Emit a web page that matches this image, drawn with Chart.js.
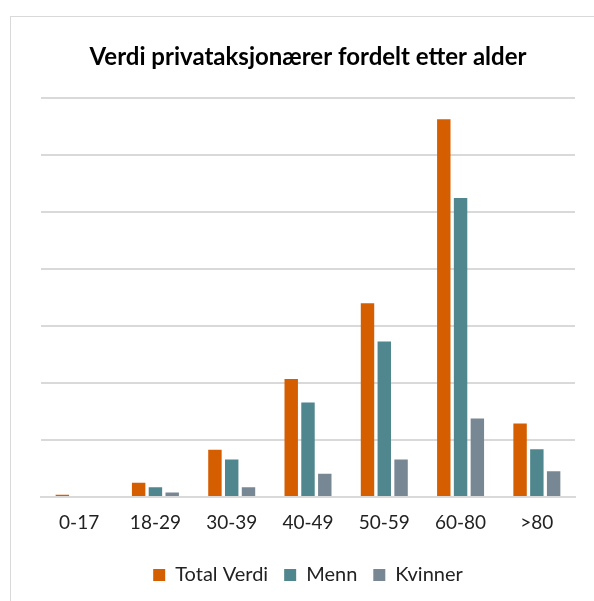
<!DOCTYPE html>
<html>
<head>
<meta charset="utf-8">
<script src="https://cdn.jsdelivr.net/npm/chart.js@4"></script>
<style>
  html, body { margin: 0; padding: 0; background: #fff; overflow: hidden; }
  #wrap { position: relative; width: 594px; height: 601px; }
  #ramme { position: absolute; left: 10px; top: 16px; width: 600px; height: 600px; border: 1px solid #d9d9d9; box-sizing: border-box; }
  canvas { position: absolute; left: 0; top: 0; }
</style>
</head>
<body>
<div id="wrap">
  <div id="ramme"></div>
  <canvas id="graf" width="594" height="601"></canvas>
</div>
<script>
// aldersgrupper og verdier (lest av bildet, enhet = en rutelinje)
const aldersgrupper = ['0-17', '18-29', '30-39', '40-49', '50-59', '60-80', '>80'];
const totalVerdi = [0.04, 0.25, 0.83, 2.07, 3.40, 6.63, 1.29];
const menn = [0.0, 0.17, 0.66, 1.66, 2.73, 5.25, 0.84];
const kvinner = [0.0, 0.08, 0.17, 0.41, 0.66, 1.38, 0.45];

const font = 'Lato, "Open Sans", sans-serif';

const ctx = document.getElementById('graf').getContext('2d');
new Chart(ctx, {
  type: 'bar',
  data: {
    labels: aldersgrupper,
    datasets: [
      { label: 'Total Verdi', data: totalVerdi, backgroundColor: '#d55e00' },
      { label: 'Menn', data: menn, backgroundColor: '#50868e' },
      { label: 'Kvinner', data: kvinner, backgroundColor: '#788794' }
    ]
  },
  options: {
    responsive: false,
    animation: false,
    layout: { padding: { top: 30, left: 41, right: 19, bottom: 6 } },
    datasets: {
      bar: { categoryPercentage: 0.66, barPercentage: 0.8 }
    },
    plugins: {
      title: {
        display: true,
        text: 'Verdi privataksjonærer fordelt etter alder',
        color: '#000',
        font: { family: font, size: 24, weight: 'bold' },
        padding: { top: 12.6, bottom: 26.9 }
      },
      legend: {
        position: 'bottom',
        labels: {
          color: '#222',
          font: { family: font, size: 20 },
          boxWidth: 12, boxHeight: 12,
          padding: 16
        }
      },
      tooltip: { enabled: false }
    },
    scales: {
      x: {
        grid: { display: false, drawTicks: false },
        border: { display: true, color: '#d9d9d9', width: 2 },
        ticks: { color: '#222', font: { family: font, size: 19 }, padding: 14.6 },
        afterFit: function(skala) { skala.height = 52; } // ekstra luft ned til tegnforklaringen
      },
      y: {
        min: 0, max: 7,
        ticks: { display: false, stepSize: 1 },
        border: { display: false },
        grid: { color: '#d9d9d9', lineWidth: 2, drawTicks: false }
      }
    }
  }
});
</script>
</body>
</html>
